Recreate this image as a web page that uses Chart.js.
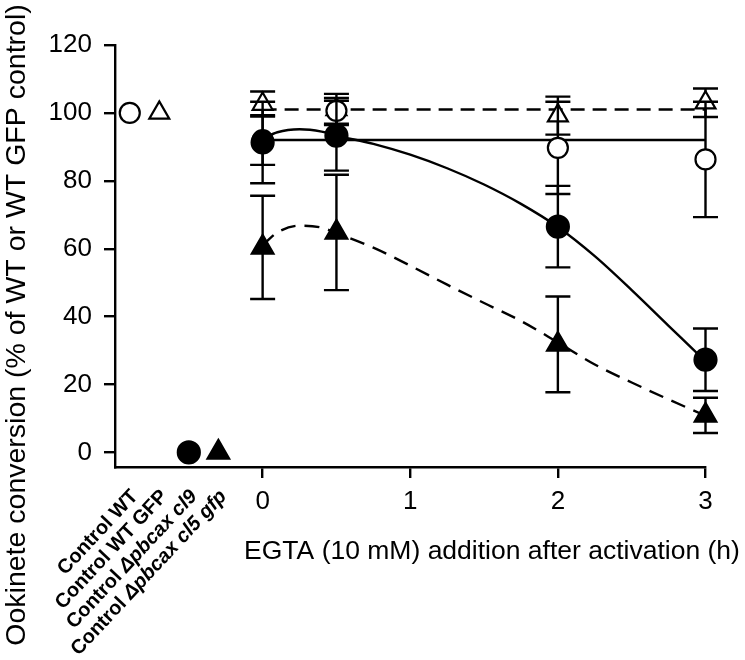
<!DOCTYPE html>
<html>
<head>
<meta charset="utf-8">
<script src="https://cdn.jsdelivr.net/npm/chart.js@4.4.0/dist/chart.umd.min.js"></script>
<style>
html,body{margin:0;padding:0;background:#fff;}
canvas{display:block;}
</style>
</head>
<body>
<canvas id="c" width="745" height="660"></canvas>
<script>
// ---- data ----
const timeX = [0, 0.5, 2, 3];
const xTickValues = [0, 1, 2, 3];
const yTickValues = [0, 20, 40, 60, 80, 100, 120];

const wtMean = [92, 100.6, 89.7, 86.3];
const wtErr = [7.3, 3.8, 13.6, 17];
const wtGfpMean = [102.6, 101, 99.2, 103];
const wtGfpErr = [3.7, 4.6, 5.6, 4.2];
const cl9Mean = [91.3, 93.3, 66.5, 27.3];
const cl9Err = [12, 10.3, 12, 9.2];
const cl5Mean = [60.4, 64.8, 31.8, 10.9];
const cl5Err = [15.2, 17, 14.1, 5.2];

const controlX = [-0.9, -0.7, -0.5, -0.3];
const controlValues = [100, 100, 0, 0];
const controlLabelPlain = ["Control WT", "Control WT GFP", "Control ", "Control "];
const controlLabelItalic = ["", "", "\u0394pbcax cl9", "\u0394pbcax cl5 gfp"];

const wtFitX = [0, 3];
const wtFitY = [92, 92];
const wtGfpFitX = [0, 3];
const wtGfpFitY = [101, 101];

const cl9CurveX = [0, 0.1, 0.25, 0.4, 0.5, 0.75, 1, 1.25, 1.5, 1.75, 2, 2.25, 2.5, 2.75, 3];
const cl9CurveY = [92.3, 94.3, 95.2, 94.5, 93.3, 90.9, 87.7, 83.7, 78.9, 73.2, 66.4, 57.8, 47.8, 37.3, 26.8];
const cl5CurveX = [0, 0.1, 0.25, 0.4, 0.5, 0.75, 1, 1.25, 1.5, 1.75, 2, 2.25, 2.5, 2.75, 3];
const cl5CurveY = [61.0, 64.8, 66.8, 66.2, 64.6, 60.3, 55.0, 49.4, 44.0, 38.7, 32.4, 25.9, 20.6, 15.6, 10.8];

const xTitle = "EGTA (10 mM) addition after activation (h)";
const yTitle = "Ookinete conversion (% of WT or WT GFP control)";

// ---- helpers ----
const pts = (xs, ys) => xs.map((x, i) => ({x: x, y: ys[i]}));
const FONT = "'Liberation Sans', Arial, Helvetica, sans-serif";
const LW = 2.4;

const lineDs = (xs, ys, dash, order) => ({
  type: 'line', data: pts(xs, ys), borderColor: '#000', borderWidth: LW,
  borderDash: dash, pointRadius: 0, fill: false, tension: 0,
  cubicInterpolationMode: 'monotone', order: order
});
const markerDs = (ys, errs, style, fillCol, radius, order) => ({
  type: 'scatter', data: pts(timeX, ys), errors: errs, showLine: false,
  pointStyle: style, pointRadius: radius, pointBackgroundColor: fillCol,
  pointBorderColor: '#000', pointBorderWidth: 2.2, order: order
});

const errorBarPlugin = {
  id: 'errorBars',
  beforeDatasetDraw(chart, args) {
    const ds = chart.data.datasets[args.index];
    if (!ds.errors) return;
    const xs = chart.scales.x, ys = chart.scales.y, ctx = chart.ctx;
    ctx.save();
    ctx.strokeStyle = '#000';
    ctx.lineWidth = LW;
    ds.data.forEach((p, i) => {
      const e = ds.errors[i];
      if (p.y == null || e == null) return;
      const px = xs.getPixelForValue(p.x);
      const top = ys.getPixelForValue(p.y + e);
      const bot = ys.getPixelForValue(p.y - e);
      ctx.beginPath();
      ctx.moveTo(px, top); ctx.lineTo(px, bot);
      ctx.moveTo(px - 12.5, top); ctx.lineTo(px + 12.5, top);
      ctx.moveTo(px - 12.5, bot); ctx.lineTo(px + 12.5, bot);
      ctx.stroke();
    });
    ctx.restore();
  }
};

const textPlugin = {
  id: 'texts',
  afterDraw(chart) {
    const ctx = chart.ctx, xs = chart.scales.x;
    ctx.save();
    ctx.fillStyle = '#000';
    // x title
    ctx.font = "26.5px " + FONT;
    ctx.textAlign = 'center';
    ctx.textBaseline = 'alphabetic';
    ctx.fillText(xTitle, 492, 559);
    // y title
    ctx.save();
    ctx.translate(17, 325);
    ctx.rotate(-Math.PI / 2);
    ctx.font = "28.5px " + FONT;
    ctx.textAlign = 'center';
    ctx.textBaseline = 'middle';
    ctx.fillText(yTitle, 0, 0);
    ctx.restore();
    // rotated control labels
    const plainFont = "bold 20px " + FONT;
    const italFont = "italic bold 20px " + FONT;
    controlLabelPlain.forEach((lab, i) => {
      const ax = xs.getPixelForValue(controlX[i]) + 9;
      const ay = 497;
      ctx.save();
      ctx.translate(ax, ay);
      ctx.rotate(-47 * Math.PI / 180);
      ctx.textAlign = 'left';
      ctx.textBaseline = 'alphabetic';
      ctx.font = plainFont;
      const w1 = ctx.measureText(lab).width;
      ctx.font = italFont;
      const w2 = controlLabelItalic[i] ? ctx.measureText(controlLabelItalic[i]).width : 0;
      const total = w1 + w2;
      ctx.font = plainFont;
      ctx.fillText(lab, -total, 0);
      if (w2) {
        ctx.font = italFont;
        ctx.fillText(controlLabelItalic[i], -total + w1, 0);
      }
      ctx.restore();
    });
    ctx.restore();
  }
};

new Chart(document.getElementById('c'), {
  data: {
    datasets: [
      lineDs(wtGfpFitX, wtGfpFitY, [14, 8], 20),
      lineDs(wtFitX, wtFitY, [], 19),
      lineDs(cl9CurveX, cl9CurveY, [], 18),
      lineDs(cl5CurveX, cl5CurveY, [15, 9], 17),
      markerDs(wtGfpMean, wtGfpErr, 'triangle', '#fff', 11.5, 10),
      markerDs(wtMean, wtErr, 'circle', '#fff', 10, 9),
      markerDs(cl9Mean, cl9Err, 'circle', '#000', 11, 8),
      markerDs(cl5Mean, cl5Err, 'triangle', '#000', 12.5, 7),
      {
        type: 'scatter', data: pts(controlX, controlValues), showLine: false,
        pointStyle: ['circle', 'triangle', 'circle', 'triangle'],
        pointRadius: [10, 11.5, 11, 12.5],
        pointBackgroundColor: ['#fff', '#fff', '#000', '#000'],
        pointBorderColor: '#000', pointBorderWidth: 2.2, order: 6
      }
    ]
  },
  options: {
    responsive: false,
    animation: false,
    events: [],
    clip: false,
    layout: { padding: { top: 45, right: 39.5, left: 0, bottom: 0 } },
    plugins: { legend: { display: false }, tooltip: { enabled: false } },
    scales: {
      x: {
        type: 'linear', position: 'bottom', min: -1, max: 3,
        afterBuildTicks: s => { s.ticks = xTickValues.map(v => ({value: v})); },
        afterFit: s => { s.height = 193; },
        ticks: { color: '#000', font: { family: FONT, size: 26 }, padding: 8,
                 callback: v => String(v) },
        grid: { drawOnChartArea: false, drawTicks: true, tickLength: 11, color: '#000', lineWidth: LW },
        border: { display: true, color: '#000', width: LW }
      },
      y: {
        type: 'linear', position: 'left', min: -4.3, max: 120,
        afterBuildTicks: s => { s.ticks = yTickValues.map(v => ({value: v})); },
        afterFit: s => { s.width = 115; },
        ticks: { color: '#000', font: { family: FONT, size: 26 }, padding: 12,
                 callback: v => String(v) },
        grid: { drawOnChartArea: false, drawTicks: true, tickLength: 11, color: '#000', lineWidth: LW },
        border: { display: true, color: '#000', width: LW }
      }
    }
  },
  plugins: [errorBarPlugin, textPlugin]
});
</script>
</body>
</html>
